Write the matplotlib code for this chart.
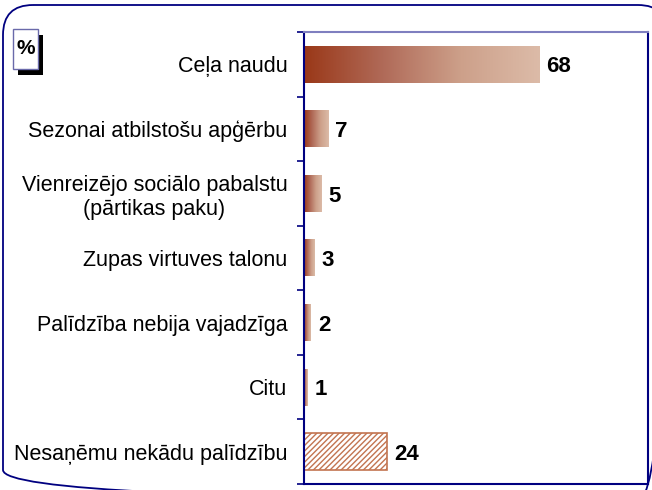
import matplotlib
matplotlib.use('Agg')
import matplotlib.pyplot as plt
from matplotlib.colors import LinearSegmentedColormap
from matplotlib.patches import FancyBboxPatch, Rectangle
import numpy as np

plt.rcParams['font.family'] = ['Liberation Sans', 'DejaVu Sans']
plt.rcParams['hatch.linewidth'] = 1.0

labels = ['Ceļa naudu',
          'Sezonai atbilstošu apģērbu',
          'Vienreizējo sociālo pabalstu\n(pārtikas paku)',
          'Zupas virtuves talonu',
          'Palīdzība nebija vajadzīga',
          'Citu',
          'Nesaņēmu nekādu palīdzību']
values = [68, 7, 5, 3, 2, 1, 24]
hatched = [False, False, False, False, False, False, True]

navy = '#000080'
grad = LinearSegmentedColormap.from_list('rust', ['#9a3818', '#b06a58', '#cda08a', '#dcbba8'])

fig = plt.figure(figsize=(6.52, 4.90), dpi=100)

# outer rounded frame, in pixel units
bg = fig.add_axes([0, 0, 1, 1])
bg.set_xlim(0, 652)
bg.set_ylim(490, 0)
bg.axis('off')
bg.add_patch(FancyBboxPatch((3, 5), 665, 495, boxstyle='round,pad=0,rounding_size=30',
                            fill=False, edgecolor=navy, linewidth=1.3, clip_on=False))
# "%" box with shadow
bg.add_patch(Rectangle((18, 35), 25, 40, facecolor='black', edgecolor='none'))
bg.add_patch(Rectangle((13, 29), 25, 40, facecolor='white', edgecolor='#6a6aaa', linewidth=1))
bg.text(25.5, 48, '%', ha='center', va='center', fontsize=15, fontweight='bold')

ax = fig.add_axes([304 / 652, 6 / 490, 344 / 652, 452 / 490])
n = len(labels)
y = np.arange(n)
bars = ax.barh(y, values, height=0.57, color='none', edgecolor='none')
for b, v, h in zip(bars, values, hatched):
    x0, y0 = b.get_x(), b.get_y()
    w, hh = b.get_width(), b.get_height()
    if h:
        b.set_facecolor('white')
        b.set_edgecolor('#c27450')
        b.set_hatch('//////')
        b.set_linewidth(1.2)
    else:
        ax.imshow(np.linspace(0, 1, 256).reshape(1, -1), cmap=grad, aspect='auto',
                  extent=(x0, x0 + w, y0 + hh, y0), zorder=2)
    ax.text(v + 2.1, b.get_y() + hh / 2 + 0.04, str(v), va='center', ha='left',
            fontsize=16, fontweight='bold')

ax.set_xlim(0, 99.5)
ax.set_ylim(n - 0.5, -0.5)
ax.set_xticks([])
ax.set_yticks(np.arange(-0.5, n, 1.0))
ax.set_yticklabels([])
ax.set_yticks(y, minor=True)
ax.set_yticklabels(labels, minor=True, fontsize=15.5, multialignment='center')
ax.tick_params(axis='y', which='major', length=5, width=1.2, color=navy, direction='out')
ax.tick_params(axis='y', which='minor', length=0, pad=12)
for side in ['left', 'right', 'bottom']:
    ax.spines[side].set_color(navy)
    ax.spines[side].set_linewidth(1.5)
ax.spines['top'].set_color('#7f7fbf')
ax.spines['top'].set_linewidth(1.5)

fig.savefig('out.png', dpi=100)
